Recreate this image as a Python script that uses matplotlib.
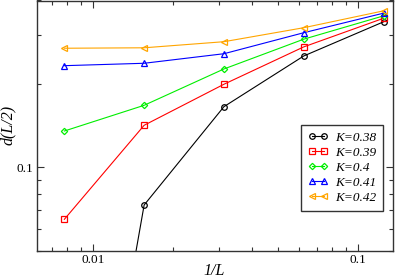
import matplotlib
matplotlib.use("Agg")
import matplotlib.pyplot as plt
from matplotlib.ticker import LogLocator, FixedLocator, NullFormatter, FixedFormatter

L_sizes = [128, 64, 32, 16, 8]
inv_L = [1.0 / L for L in L_sizes]

labels = ["K=0.38", "K=0.39", "K=0.4", "K=0.41", "K=0.42"]
d_038 = [0.0017, 0.0731, 0.1655, 0.2522, 0.335]
d_039 = [0.0649, 0.1418, 0.1994, 0.272, 0.345]
d_040 = [0.1352, 0.1674, 0.2264, 0.290, 0.352]
d_041 = [0.2327, 0.2374, 0.257, 0.306, 0.360]
d_042 = [0.269, 0.270, 0.284, 0.319, 0.367]
series = [d_038, d_039, d_040, d_041, d_042]
colors = ["#000000", "#ff0000", "#00ee00", "#0000ff", "#ffa500"]
markers = ["o", "s", "D", "^", "<"]
msizes = [4.0, 3.8, 3.2, 4.0, 4.0]

plt.rcParams["font.family"] = ["Liberation Serif", "DejaVu Serif"]

fig = plt.figure(figsize=(3.95, 2.79), dpi=100)
ax_l, ax_r, ax_t, ax_b = 37, 392.7, 0.5, 250.7
ax = fig.add_axes([ax_l / 395, 1 - ax_b / 279, (ax_r - ax_l) / 395, (ax_b - ax_t) / 279])

for ys, c, m, ms, lab in zip(series, colors, markers, msizes, labels):
    ax.plot(inv_L, ys, color=c, lw=0.8, marker=m, ms=ms, mfc="none", mec=c,
            mew=0.9, label=lab)

ax.set_xscale("log")
ax.set_yscale("log")
ax.set_xlim(0.00616, 0.1354)
ax.set_ylim(0.05, 0.4)

ax.xaxis.set_major_locator(FixedLocator([0.01, 0.1]))
ax.xaxis.set_major_formatter(FixedFormatter(["0.01", "0.1"]))
ax.xaxis.set_minor_locator(LogLocator(base=10, subs=range(2, 10)))
ax.xaxis.set_minor_formatter(NullFormatter())
ax.yaxis.set_major_locator(FixedLocator([0.1]))
ax.yaxis.set_major_formatter(FixedFormatter(["0.1"]))
ax.yaxis.set_minor_locator(LogLocator(base=10, subs=range(2, 10)))
ax.yaxis.set_minor_formatter(NullFormatter())

ax.tick_params(which="both", direction="in", top=True, right=True,
               labelsize=9.5, color="#333333", pad=2.5)
ax.tick_params(which="major", length=5, width=0.8)
ax.tick_params(which="minor", length=2.9, width=0.8)
for s in ax.spines.values():
    s.set_color("#333333")
    s.set_linewidth(1.0)

ax.set_xlabel("1/L", fontstyle="italic", fontsize=11.5)
ax.set_ylabel("d(L/2)", fontstyle="italic", fontsize=11.5)
ax.xaxis.set_label_coords((214.5 - ax_l) / (ax_r - ax_l), (ax_b - 263) / (ax_b - ax_t))
ax.yaxis.set_label_coords((16 - ax_l) / (ax_r - ax_l), (ax_b - 124.5) / (ax_b - ax_t))

leg = ax.legend(loc="lower right", bbox_to_anchor=((383.3 - ax_l) / (ax_r - ax_l), (ax_b - 210.7) / (ax_b - ax_t)),
                borderaxespad=0, frameon=True, fancybox=False, edgecolor="#333333", numpoints=2,
                handlelength=1.5, handletextpad=0.6, labelspacing=0.22,
                borderpad=0.5, framealpha=1,
                prop={"style": "italic", "size": 9.5})
leg.get_frame().set_linewidth(1.0)

fig.savefig("out.png", dpi=100)
